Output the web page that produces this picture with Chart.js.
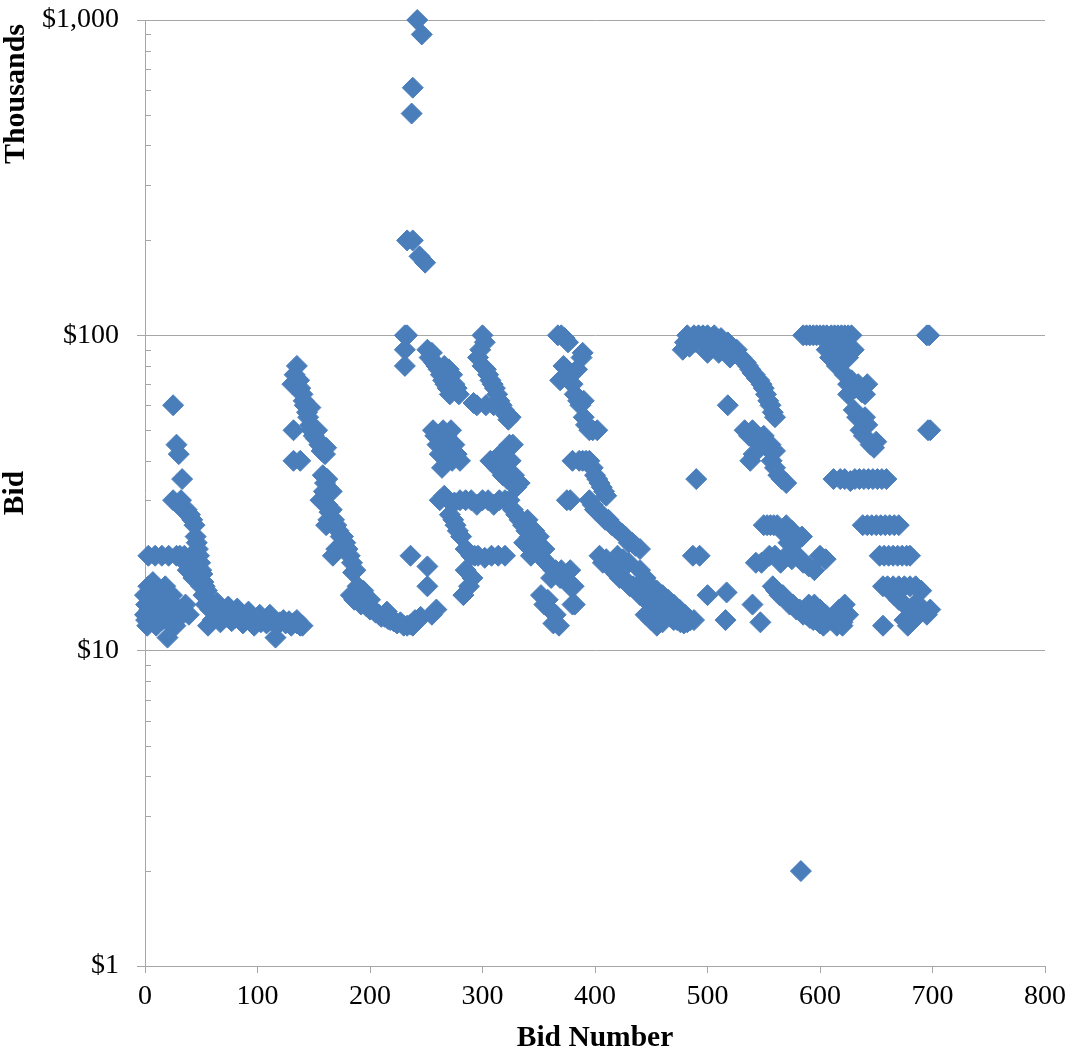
<!DOCTYPE html>
<html>
<head>
<meta charset="utf-8">
<title>Bids by bid number</title>
<script src="https://cdn.jsdelivr.net/npm/chart.js@4.4.1/dist/chart.umd.min.js"></script>
<style>
  html, body { margin: 0; padding: 0; background: #fff; }
</style>
</head>
<body>
<canvas id="chart" width="1069" height="1053"></canvas>
<script>
// bid number (x) and bid in thousands of dollars (y), one line of ten bids each
const bidNumber = [
  0, 0, 1, 1, 2, 3, 3, 4, 5, 6,
  7, 8, 9, 9, 10, 12, 13, 14, 15, 15,
  17, 18, 19, 20, 21, 21, 22, 24, 25, 25,
  26, 27, 28, 28, 30, 30, 31, 32, 33, 33,
  34, 35, 36, 36, 37, 38, 39, 40, 40, 41,
  42, 43, 44, 44, 45, 46, 46, 47, 48, 48,
  49, 50, 50, 51, 52, 52, 53, 54, 55, 56,
  57, 58, 60, 60, 62, 65, 68, 70, 72, 75,
  78, 80, 83, 85, 88, 90, 93, 95, 98, 100,
  103, 105, 108, 110, 113, 116, 117, 120, 123, 125,
  128, 130, 133, 135, 138, 140, 131, 133, 135, 137,
  64, 67, 74, 77, 82, 87, 92, 97, 102, 111,

  138, 140, 141, 142, 144, 145, 147, 148, 150, 152,
  155, 157, 160, 132, 132, 138, 153, 161, 147, 158,
  160, 162, 156, 159, 162, 164, 161, 163, 166, 168,
  170, 172, 174, 176, 167, 170, 178, 180, 182, 184,
  185, 187, 183, 186, 188, 190, 192, 195, 197, 200,
  203, 205, 208, 210, 213, 216, 218, 221, 224, 227,
  230, 233, 236, 238, 240, 242, 245, 166, 135, 189,

  231, 231, 231, 233, 242, 246, 238, 237, 233, 238,
  244, 249, 236, 251, 251, 259, 255, 200, 194, 215,

  251, 253, 255, 257, 259, 261, 263, 265, 267, 269,
  271, 273, 275, 277, 279, 266, 270, 256, 258, 260,
  262, 265, 268, 270, 272, 275, 277, 280, 264, 273,
  262, 266, 270, 275, 280, 285, 290, 295, 300, 305,
  310, 315, 320, 271, 276, 281, 285, 290, 296, 302,
  308, 314, 320, 274, 278, 285, 288, 283, 291, 293,

  300, 302, 298, 296, 300, 303, 305, 307, 309, 311,
  313, 315, 317, 319, 321, 323, 325, 292, 295, 310,
  324, 310, 313, 316, 318, 320, 322, 325, 328, 330,
  333, 324, 327, 330, 333, 336, 339, 342, 345, 348,
  351, 354, 357, 360, 363, 366, 369, 372, 375, 378,
  340, 346, 350, 355, 352, 355, 358, 360, 363, 365,
  368, 361, 365, 370, 307, 303, 327, 343, 337, 381,

  367, 370, 373, 376, 369, 372, 375, 378, 380, 382,
  385, 387, 389, 388, 384, 390, 390, 392, 395, 398,
  402, 386, 389, 392, 395, 398, 400, 402, 404, 406,
  408, 410, 380, 375, 378, 380, 378, 380, 382, 395,
  398, 400, 403, 406, 409, 412, 415, 418, 421, 424,
  427, 430, 433, 436, 440, 404, 407, 410, 413, 416,
  419, 422, 425, 428, 431, 434, 437, 440, 443, 446,
  449, 452, 455, 458, 461, 464, 467, 470, 473, 476,
  479, 482, 485, 488, 420, 425, 430, 440, 445, 450,
  455, 460, 465, 470, 475, 480, 450, 455, 460, 445,

  478, 480, 482, 484, 486, 488, 490, 492, 494, 496,
  498, 500, 502, 504, 506, 508, 510, 512, 514, 516,
  518, 520, 522, 524, 526, 528, 530, 532, 534, 536,
  538, 540, 542, 544, 546, 548, 550, 552, 554, 556,
  558, 560, 533, 537, 540, 543, 546, 550, 553, 556,
  560, 538, 541, 557, 560, 563, 566, 570, 518, 490,
  487, 500, 516, 517, 540, 547, 493, 500, 510, 520,

  550, 553, 556, 559, 562, 566, 570, 575, 580, 584,
  543, 548, 555, 560, 565, 570, 575, 580, 585, 590,
  595, 600, 605, 558, 561, 564, 567, 570, 573, 576,
  579, 582, 585, 588, 591, 594, 597, 600, 603, 606,
  610, 615, 620, 590, 595, 600, 605, 583, 572, 578,

  585, 588, 591, 594, 597, 600, 603, 606, 610, 613,
  616, 619, 622, 625, 628, 606, 609, 612, 615, 618,
  620, 625, 630, 622, 625, 628, 631, 634, 637, 640,
  642, 625, 630, 633, 636, 639, 642, 645, 648, 650,
  640, 612, 618, 622, 627, 631, 635, 639, 643, 647,
  651, 655, 659, 638, 642, 646, 650, 654, 658, 662,
  666, 670, 653, 657, 661, 665, 669, 673, 677, 680,
  656, 660, 665, 670, 675, 680, 685, 690, 666, 670,
  675, 680, 684, 688, 692, 695, 698, 675, 678, 683,
  686, 656, 622, 625, 620, 695, 697, 696, 698, 617
];

const bidThousands = [
  15, 13, 12.5, 14, 12, 20, 16, 13.5, 12.5, 15,
  16.5, 14, 13, 20, 12, 15.5, 14.5, 13, 20, 12.5,
  14, 16, 12.5, 11, 13.5, 20, 12.5, 15, 60, 30,
  13, 12, 45, 20, 42, 13.5, 20, 30, 35, 13,
  28, 20, 14, 19, 28, 18, 13, 27, 19, 18,
  26, 17, 25, 20, 23, 22, 18, 21, 20, 17,
  19, 18, 16, 17.5, 16.5, 15, 16, 14, 15.5, 12,
  14, 13.5, 12.5, 14, 13.5, 13, 13.5, 13, 12.8, 13.2,
  13, 12.7, 13, 12.8, 12.6, 13, 12.5, 12.8, 12.4, 12.6,
  12.3, 12.5, 12.2, 12.4, 12.6, 11, 12, 12.3, 12.5, 12.2,
  12.4, 12, 12.3, 12.5, 12, 12, 70, 75, 80, 72,
  14.2, 12.3, 13.8, 12.4, 13.6, 12.2, 13.3, 12, 13, 13,

  68, 65, 62, 60, 57, 55, 52, 50, 48, 47,
  45, 43, 42, 50, 40, 40, 50, 44, 59, 36,
  34, 35, 30, 32, 29, 27.5, 25, 26, 28, 26,
  25, 24, 23, 23, 20, 21, 22, 21, 20, 19,
  17.7, 18, 15, 14.5, 15, 14.5, 14, 14.2, 13.8, 13.5,
  13.5, 13.2, 13, 12.8, 12.8, 12.6, 12.5, 12.4, 12.2, 12.3,
  12, 12, 12.1, 12, 12.5, 12.4, 12.8, 32, 12.2, 16,

  100, 90, 80, 100, 1000, 900, 610, 505, 200, 200,
  178, 170, 20, 18.5, 16, 13.5, 13, 14.5, 15.5, 13.3,

  90, 85, 88, 82, 80, 78, 75, 72, 70, 68,
  65, 75, 70, 68, 65, 80, 78, 50, 48, 45,
  42, 50, 48, 45, 50, 45, 42, 40, 38, 40,
  30, 31, 30, 29.5, 30, 30, 30, 29, 30, 30,
  29, 30, 30, 27, 25, 23, 21, 20, 20, 19.7,
  20, 20, 20, 26, 24, 18, 16, 15, 17, 20,

  100, 95, 90, 85, 80, 78, 75, 72, 70, 68,
  65, 62, 60, 58, 56, 54, 55, 61, 60, 60,
  45, 40, 38, 42, 36, 38, 35, 40, 36, 33,
  34, 30, 28, 27, 26, 25, 24, 23, 22, 21,
  20, 19.5, 19, 18.5, 18, 17.5, 17, 17, 16.5, 16,
  26, 24, 23, 21, 15, 14, 14.5, 13.5, 12.2, 13,
  12, 17, 18, 18, 40, 60, 45, 20, 22, 16,

  100, 100, 98, 95, 72, 80, 78, 75, 70, 65,
  62, 60, 88, 85, 78, 62, 55, 52, 50, 50,
  50, 40, 40, 40, 40, 38, 36, 35, 34, 33,
  32, 31, 40, 30, 30, 14, 18, 16, 14, 30,
  29, 28, 27.5, 27, 26, 26, 25, 24.5, 24, 23.5,
  23, 22, 22, 21.5, 21, 20, 19, 19.5, 18.5, 18,
  17.5, 17, 17, 16.5, 16, 16, 15.5, 15, 15, 14.5,
  14, 14, 13.5, 13.5, 13, 13, 12.8, 12.5, 12.5, 12.3,
  12.2, 12.3, 12.5, 12.5, 20, 19.5, 19, 18, 17, 16,
  15.5, 15, 14.5, 14, 13.5, 13, 12.5, 12, 12.3, 13,

  90, 95, 100, 92, 98, 100, 95, 100, 98, 100,
  95, 100, 97, 95, 100, 96, 93, 98, 95, 92,
  95, 90, 92, 88, 90, 86, 85, 83, 82, 80,
  78, 76, 75, 73, 72, 70, 68, 65, 62, 60,
  57, 55, 50, 48, 50, 47, 45, 48, 44, 45,
  43, 40, 42, 40, 38, 36, 35, 34, 60, 35,
  20, 15, 12.5, 15.3, 14, 12.3, 20, 88, 88, 85,

  25, 25, 25, 25, 25, 24, 25, 24, 23, 23,
  19, 19, 20, 20, 19, 20, 19.5, 20, 19, 18.5,
  18, 20, 19.5, 16, 15.5, 15, 15, 14.5, 14, 14,
  13.5, 13.5, 13, 13, 12.7, 12.5, 12.5, 12.2, 12, 12.3,
  12.5, 12, 12.3, 14, 14, 13.5, 13, 2, 22, 22,

  100, 100, 100, 100, 100, 100, 100, 100, 100, 100,
  100, 100, 100, 100, 100, 90, 85, 88, 80, 92,
  88, 85, 90, 75, 70, 72, 68, 70, 66, 65,
  70, 65, 58, 55, 50, 48, 52, 45, 44, 46,
  55, 35, 35, 35, 34.5, 35, 35, 35, 35, 35,
  35, 35, 35, 25, 25, 25, 25, 25, 25, 25,
  25, 25, 20, 20, 20, 20, 20, 20, 20, 20,
  16, 16, 16, 16, 16, 16, 16, 15.5, 15, 14.5,
  14, 13.5, 14, 13.5, 13.5, 13, 13.5, 12.5, 12, 12.5,
  13, 12, 14, 13, 12, 100, 100, 50, 50, 13.5
];

const yTickValues = [1, 10, 100, 1000];
const yTickLabels = ['$1', '$10', '$100', '$1,000'];
const xTickValues = [0, 100, 200, 300, 400, 500, 600, 700, 800];

const serif = "'Liberation Serif', 'Times New Roman', serif";
const axisGrey = '#a6a6a6';
const markerBlue = '#4a7ebb';

// small tick marks inside the log axis plus the "Thousands" unit label
const logAxisExtras = {
  id: 'logAxisExtras',
  beforeDatasetsDraw(chart) {
    const ctx = chart.ctx;
    const y = chart.scales.y;
    const left = chart.chartArea.left;
    ctx.save();
    ctx.strokeStyle = axisGrey;
    ctx.lineWidth = 1;
    for (const decade of [1, 10, 100]) {
      for (let m = 2; m <= 9; m++) {
        const py = Math.round(y.getPixelForValue(decade * m)) + 0.5;
        ctx.beginPath();
        ctx.moveTo(left, py);
        ctx.lineTo(left + 6, py);
        ctx.stroke();
      }
    }
    ctx.restore();
  },
  afterDraw(chart) {
    const ctx = chart.ctx;
    ctx.save();
    ctx.translate(16, 24);
    ctx.rotate(-Math.PI / 2);
    ctx.font = 'bold 30px ' + serif;
    ctx.fillStyle = '#000';
    ctx.textAlign = 'right';
    ctx.textBaseline = 'middle';
    ctx.fillText('Thousands', 0, 0);
    ctx.restore();
  }
};

const points = bidNumber.map((x, i) => ({ x: x, y: bidThousands[i] }));

new Chart(document.getElementById('chart'), {
  type: 'scatter',
  data: {
    datasets: [{
      label: 'Bid',
      data: points,
      pointStyle: 'rectRot',
      pointRadius: 10.5,
      pointBorderWidth: 1,
      backgroundColor: markerBlue,
      borderColor: markerBlue,
      clip: false
    }]
  },
  options: {
    responsive: false,
    animation: false,
    devicePixelRatio: 1,
    layout: { padding: { top: 20, right: 24, left: 0, bottom: 0 } },
    plugins: {
      legend: { display: false },
      tooltip: { enabled: false }
    },
    scales: {
      x: {
        type: 'linear',
        min: 0,
        max: 800,
        afterBuildTicks: s => { s.ticks = xTickValues.map(v => ({ value: v })); },
        afterFit: s => {
          s.height = 87;
          s.paddingLeft = 0;
          s.paddingRight = 0;
        },
        grid: { drawOnChartArea: false, tickLength: 7, color: axisGrey },
        border: { color: axisGrey },
        ticks: { font: { family: serif, size: 28 }, color: '#000', padding: 7, maxRotation: 0 },
        title: {
          display: true,
          text: 'Bid Number',
          color: '#000',
          font: { family: serif, size: 29.5, weight: 'bold', lineHeight: 1.0 },
          padding: { top: 0, bottom: 0 }
        }
      },
      y: {
        type: 'logarithmic',
        min: 1,
        max: 1000,
        afterBuildTicks: s => { s.ticks = yTickValues.map(v => ({ value: v })); },
        afterFit: s => {
          s.width = 145;
          s.paddingTop = 0;
          s.paddingBottom = 0;
        },
        grid: { color: axisGrey, tickLength: 8 },
        border: { color: axisGrey },
        ticks: {
          font: { family: serif, size: 28 },
          color: '#000',
          padding: 18,
          callback: v => yTickLabels[yTickValues.indexOf(v)]
        },
        title: {
          display: true,
          text: 'Bid',
          color: '#000',
          font: { family: serif, size: 29.5, weight: 'bold', lineHeight: 1.05 },
          padding: { top: 0, bottom: 0 }
        }
      }
    }
  },
  plugins: [logAxisExtras]
});
</script>
</body>
</html>
